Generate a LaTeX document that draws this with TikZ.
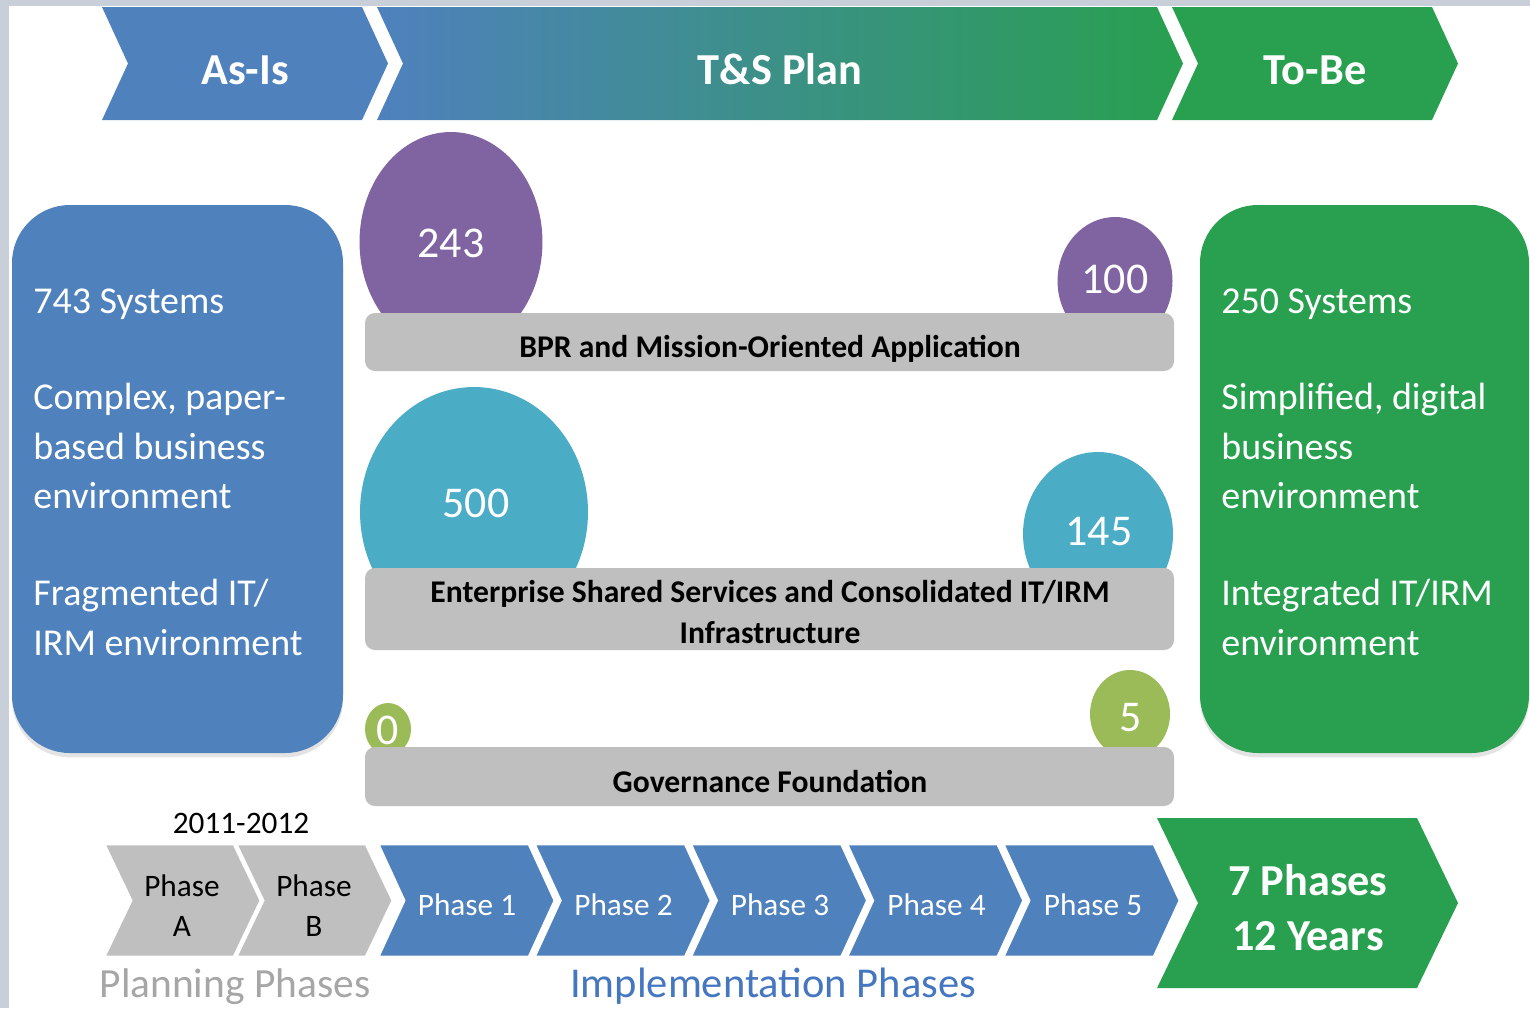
\documentclass[tikz,border=0pt]{standalone}
\usepackage{fontspec}
\setmainfont{Carlito}
\usetikzlibrary{shapes.geometric,shadows}
\definecolor{asisblue}{HTML}{4F81BD}
\definecolor{tobegreen}{HTML}{28A04F}
\definecolor{ppl}{HTML}{8064A2}
\definecolor{tealc}{HTML}{4BACC6}
\definecolor{olivec}{HTML}{9BBB59}
\definecolor{bargrey}{HTML}{BFBFBF}
\definecolor{plangrey}{HTML}{A6A6A6}
\definecolor{implblue}{HTML}{4577C0}
\definecolor{edgebg}{HTML}{C9CFD8}
% chevron: x0, y0, width, point depth, height, style
\newcommand\chevshape[6]{\path[#6] (#1,#2) -- ++(#3,0) -- ++(#4,#5/2) -- ++(-#4,#5/2) -- ++(-#3,0) -- ++(#4,-#5/2) -- cycle;}
\begin{document}
\begin{tikzpicture}[x=0.02cm,y=-0.02cm,
  txt/.style={inner sep=0pt, anchor=base},
  txtl/.style={inner sep=0pt, anchor=base west},
  head/.style={txt, text=white, font=\fontsize{25.2}{30}\selectfont\bfseries},
  boxtxt/.style={txtl, text=white, font=\fontsize{21.6}{26}\selectfont},
  num/.style={txt, text=white, font=\fontsize{25}{30}\selectfont},
  bartxt/.style={txt, text=black, font=\fontsize{18}{22}\selectfont\bfseries},
  phtxt/.style={txt, font=\fontsize{17.8}{21}\selectfont},
  blob/.style={ellipse, inner sep=0pt, draw=none},
  bar/.style={fill=bargrey, rounded corners=0.2cm},
  bigbox/.style={rounded corners=1.16cm, drop shadow={shadow xshift=0pt, shadow yshift=-2.5pt, opacity=0.22}},
  phchev/.style={draw=white, line width=1.6pt}
]
\useasboundingbox (0,0) rectangle (1530,1008);
% background
\fill[edgebg] (0,0) rectangle (1530,1008);
\fill[white] (9,6) rectangle (1530,1008);

% top chevrons
\chevshape{102}{7}{260}{26}{113}{fill=asisblue}
\chevshape{377}{7}{780}{26}{113}{left color=asisblue, right color=tobegreen}
\chevshape{1172}{7}{260}{26}{113}{fill=tobegreen}
\node[head] (asis) at (245,84) {As-Is};
\node[head] (tsplan) at (780,84) {T\&S Plan};
\node[head] (tobe) at (1315,84) {To-Be};

% side boxes
\fill[asisblue, bigbox] (12,205) rectangle (343,753);
\fill[tobegreen, bigbox] (1200,205) rectangle (1529,753);
\node[boxtxt] (l1) at (33,313) {743 Systems};
\node[boxtxt] (l2) at (33,409) {Complex, paper-};
\node[boxtxt] (l3) at (33,459) {based business};
\node[boxtxt] (l4) at (33,508) {environment};
\node[boxtxt] (l5) at (33,605) {Fragmented IT/};
\node[boxtxt] (l6) at (33,655) {IRM environment};
\node[boxtxt] (r1) at (1221,313) {250 Systems};
\node[boxtxt] (r2) at (1221,409) {Simplified, digital};
\node[boxtxt] (r3) at (1221,459) {business};
\node[boxtxt] (r4) at (1221,508) {environment};
\node[boxtxt] (r5) at (1221,605) {Integrated IT/IRM};
\node[boxtxt] (r6) at (1221,655) {environment};

% circles
\node[blob, fill=ppl, minimum width=3.66cm, minimum height=4.4cm] (c243) at (451,242) {};
\node[blob, fill=ppl, minimum width=2.3cm, minimum height=2.56cm] (c100) at (1115,281) {};
\node[blob, fill=tealc, minimum width=4.56cm, minimum height=5.0cm] (c500) at (474,512) {};
\node[blob, fill=tealc, minimum width=3.0cm, minimum height=3.28cm] (c145) at (1098,534) {};
\node[blob, fill=olivec, minimum width=0.92cm, minimum height=1.04cm] (c0) at (388,729) {};
\node[blob, fill=olivec, minimum width=1.6cm, minimum height=1.76cm] (c5) at (1130,714) {};

% bars
\fill[bar] (365,313) rectangle (1174,371);
\fill[bar] (365,568) rectangle (1174,650);
\fill[bar] (365,747) rectangle (1174,806);

\node[num] (t243) at (451,257) {243};
\node[num] (t100) at (1115,293) {100};
\node[num] (t500) at (476,517) {500};
\node[num] (t145) at (1099,545) {145};
\node[num] (t0) at (388,744) {0};
\node[num] (t5) at (1131,731) {5};

\node[bartxt] (bpr) at (770,357) {BPR and Mission-Oriented Application};
\node[bartxt] (ess1) at (770,602) {Enterprise Shared Services and Consolidated IT/IRM};
\node[bartxt] (ess2) at (770,643) {Infrastructure};
\node[bartxt] (gov) at (770,792) {Governance Foundation};

% bottom chevrons
\node[phtxt, text=black] (years) at (241,833) {2011-2012};
\chevshape{104}{844}{130}{27}{113}{fill=bargrey, phchev}
\chevshape{236}{844}{130}{27}{113}{fill=bargrey, phchev}
\node[phtxt, text=black] (pa1) at (182,896) {Phase};
\node[phtxt, text=black] (pa2) at (182,936) {A};
\node[phtxt, text=black] (pb1) at (314,896) {Phase};
\node[phtxt, text=black] (pb2) at (314,936) {B};
\foreach \k in {0,...,4}{
  \chevshape{378+156.25*\k}{844}{151}{26}{113}{fill=asisblue, phchev}
}
\node[phtxt, text=white] (p1) at (467,915) {Phase 1};
\node[phtxt, text=white] (p2) at (623.5,915) {Phase 2};
\node[phtxt, text=white] (p3) at (780,915) {Phase 3};
\node[phtxt, text=white] (p4) at (936.5,915) {Phase 4};
\node[phtxt, text=white] (p5) at (1093,915) {Phase 5};
\chevshape{1157}{818}{260}{41}{170}{fill=tobegreen}
\node[head] (seven) at (1308,895) {7 Phases};
\node[head] (twelve) at (1308,950) {12 Years};

\node[txt, text=plangrey, font=\fontsize{23.6}{28}\selectfont] (plan) at (235,997) {Planning Phases};
\node[txt, text=implblue, font=\fontsize{24.2}{29}\selectfont] (impl) at (773,997) {Implementation Phases};
\end{tikzpicture}
\end{document}
